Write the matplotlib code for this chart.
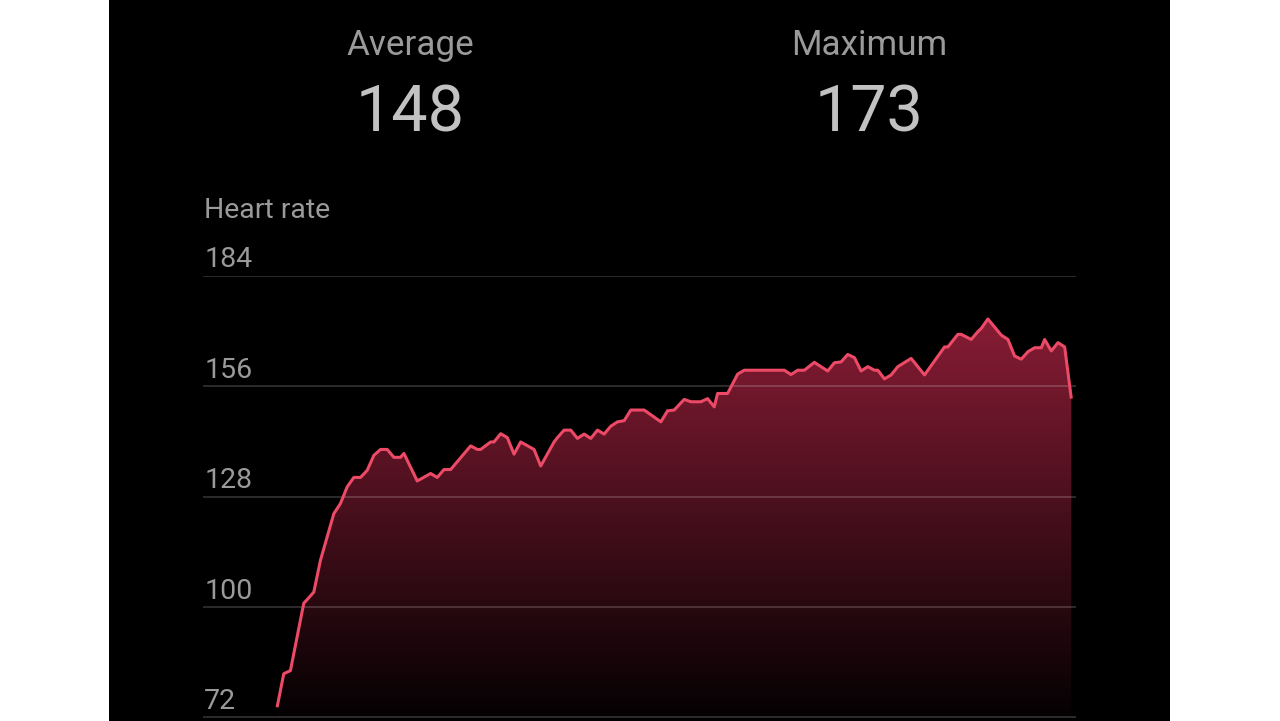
"""Heart rate workout summary chart (dark theme)."""

import matplotlib.pyplot as plt
import numpy as np
from matplotlib.colors import LinearSegmentedColormap
from matplotlib.patches import Polygon

plt.rcParams["font.family"] = ["Roboto", "DejaVu Sans"]

PAGE_BG = "#FFFFFF"
PANEL_BG = "#000000"
LABEL = "#9A9A9A"
VALUE = "#C2C2C2"
LINE = "#EC4A66"
FILL_TOP = "#961F3A"
FILL_BOTTOM = "#040102"

# elapsed time (seconds) and heart rate (bpm)
elapsed_s = [
    0, 10, 20, 40, 45, 55, 65, 85, 95, 105, 115, 125, 135, 145, 155, 165,
    175, 185, 190, 210, 230, 240, 250, 260, 290, 300, 305, 320, 325, 335,
    345, 355, 365, 385, 395, 415, 420, 430, 440, 450, 460, 470, 480, 490,
    500, 510, 520, 530, 550, 575, 585, 595, 610, 620, 635, 645, 655, 660,
    675, 690, 700, 760, 770, 780, 790, 805, 825, 835, 845, 855, 865, 875,
    885, 895, 900, 910, 920, 930, 950, 970, 1000, 1005, 1020, 1025, 1040,
    1050, 1055, 1065, 1085, 1095, 1105, 1115, 1125, 1135, 1145, 1150, 1160,
    1170, 1180, 1190,
]
heart_rate = [
    74.6, 83.1, 83.9, 101.0, 101.9, 103.8, 111.9, 123.7, 126.3, 130.5, 132.9,
    132.9, 134.7, 138.5, 140.0, 140.0, 138.0, 138.0, 139.0, 132.0, 133.9,
    132.9, 134.9, 134.9, 140.9, 140.0, 140.0, 141.9, 141.9, 144.0, 143.0,
    138.8, 141.9, 140.0, 135.8, 141.9, 143.0, 144.9, 144.9, 142.8, 143.9,
    142.8, 144.9, 143.9, 145.9, 147.0, 147.3, 150.0, 150.0, 147.0, 149.8,
    150.0, 152.7, 152.1, 152.1, 152.9, 150.8, 154.2, 154.2, 159.1, 160.1,
    160.1, 159.0, 160.1, 160.1, 162.1, 159.9, 162.0, 162.2, 164.1, 163.3,
    159.9, 161.0, 160.1, 160.1, 157.9, 158.9, 161.0, 163.1, 158.9, 166.0,
    166.0, 169.2, 169.2, 167.9, 169.9, 170.7, 173.1, 169.0, 167.9, 163.7,
    162.9, 164.8, 165.8, 165.8, 167.9, 165.0, 167.1, 166.0, 152.9,
]
y_ticks = [72, 100, 128, 156, 184]
summary_labels = ["Average", "Maximum"]
summary_values = ["148", "173"]

W, H = 1280, 721
fig = plt.figure(figsize=(W / 100, H / 100), dpi=100, facecolor=PAGE_BG)

# black phone-screen panel
panel = fig.add_axes([109 / W, 0, 1061 / W, 1])
panel.set_facecolor(PANEL_BG)
panel.set_xticks([])
panel.set_yticks([])
for spine in panel.spines.values():
    spine.set_visible(False)

# summary header
for label, value, cx in zip(summary_labels, summary_values, [410, 869]):
    fig.text(cx / W, 1 - 55 / H, label, ha="center", va="baseline",
             fontsize=25.2, color=LABEL)
    fig.text(cx / W, 1 - 131.5 / H, value, ha="center", va="baseline",
             fontsize=46.5, color=VALUE)
fig.text(204 / W, 1 - 218.5 / H, "Heart rate", ha="left", va="baseline",
         fontsize=20.5, color=LABEL)

# chart area
ax_left, ax_right = 203, 1076
ax_top, ax_bottom = 276, 717.5
ax = fig.add_axes([ax_left / W, (H - ax_bottom) / H,
                   (ax_right - ax_left) / W, (ax_bottom - ax_top) / H])
ax.set_facecolor("none")
ax.axis("off")

x = np.array(elapsed_s, dtype=float)
y = np.array(heart_rate)

# gradient fill under the curve
cmap = LinearSegmentedColormap.from_list("hr", [FILL_BOTTOM, FILL_TOP])
grad = np.linspace(0, 1, 256).reshape(-1, 1)
img = ax.imshow(grad, cmap=cmap, origin="lower", aspect="auto",
                extent=[x[0], x[-1], y_ticks[0], y_ticks[-1]], zorder=1)
verts = np.column_stack([np.r_[x[0], x, x[-1]],
                         np.r_[y_ticks[0], y, y_ticks[0]]])
clip = Polygon(verts, closed=True, facecolor="none", edgecolor="none")
ax.add_patch(clip)
img.set_clip_path(clip)

# gridlines and tick labels
for tick in y_ticks:
    ax.axhline(tick, color="#FFFFFF", alpha=0.2, linewidth=1.2, zorder=2)
    ax.annotate(str(tick), xy=(0, tick), xycoords=("axes fraction", "data"),
                xytext=(0.8, 6.2), textcoords="offset points",
                ha="left", va="baseline", fontsize=20.5, color=LABEL)

ax.plot(x, y, color=LINE, linewidth=2.2, solid_joinstyle="round",
        solid_capstyle="butt", zorder=3)
ax.set_xlim(-111, 1197)
ax.set_ylim(y_ticks[0], y_ticks[-1])

fig.savefig("out.png", dpi=100, facecolor=fig.get_facecolor())
